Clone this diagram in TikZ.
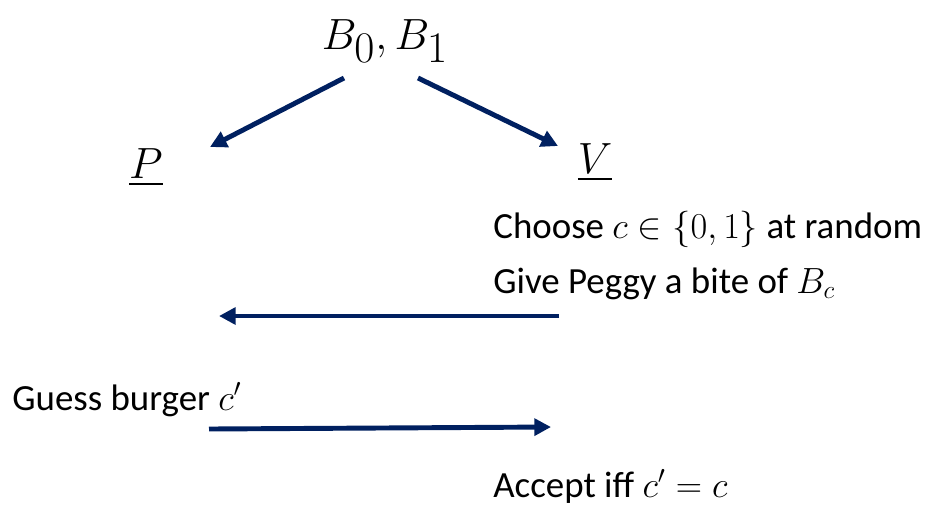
\documentclass[tikz,border=0pt]{standalone}
\usepackage{amsmath}
\usepackage{fontspec}
\setmainfont{Carlito}
\usetikzlibrary{arrows.meta,positioning}
\definecolor{Navy}{HTML}{002060}
\tikzset{msg/.style={-{Triangle[length=9.5pt,width=9.5pt]},line width=2.8pt,draw=Navy},txt/.style={anchor=base west,inner sep=0pt,font=\fontsize{21}{25}\selectfont},party/.style={anchor=base,inner sep=0pt,font=\fontsize{40}{46}\selectfont},secret/.style={anchor=base,inner sep=0pt,font=\fontsize{36}{42}\selectfont}}

\begin{document}
\begin{tikzpicture}[x=0.02cm,y=-0.02cm]
      \useasboundingbox (0,0) rectangle (935,508);
      \node[secret](burgers) at (385,49){$B_0, B_1$};
      \node[party](prover) at (146,178){$\underline{P}$};
      \node[party](verifier) at (595,173){$\underline{V}$};
      \node[txt](choose) at (493,238){Choose $c \in \{0, 1\}$ at random};
      \node[txt](bite) at (493,293){Give Peggy a bite of $B_c$};
      \node[txt](guess) at (12,410){Guess burger $c'$};
      \node[txt](accept) at (493,497){Accept iff $c' = c$};
      \coordinate (toP0) at (344,78);\coordinate (toP1) at (210,147);
      \coordinate (toV0) at (418,78);\coordinate (toV1) at (558,146);
      \coordinate (biteA) at (559,316);\coordinate (biteB) at (219,316);
      \coordinate (guessA) at (209,429);\coordinate (guessB) at (551,427);
      \draw[msg](toP0)--(toP1);\draw[msg](toV0)--(toV1);
      \draw[msg](biteA)--(biteB);\draw[msg](guessA)--(guessB);
    \end{tikzpicture}
\end{document}
